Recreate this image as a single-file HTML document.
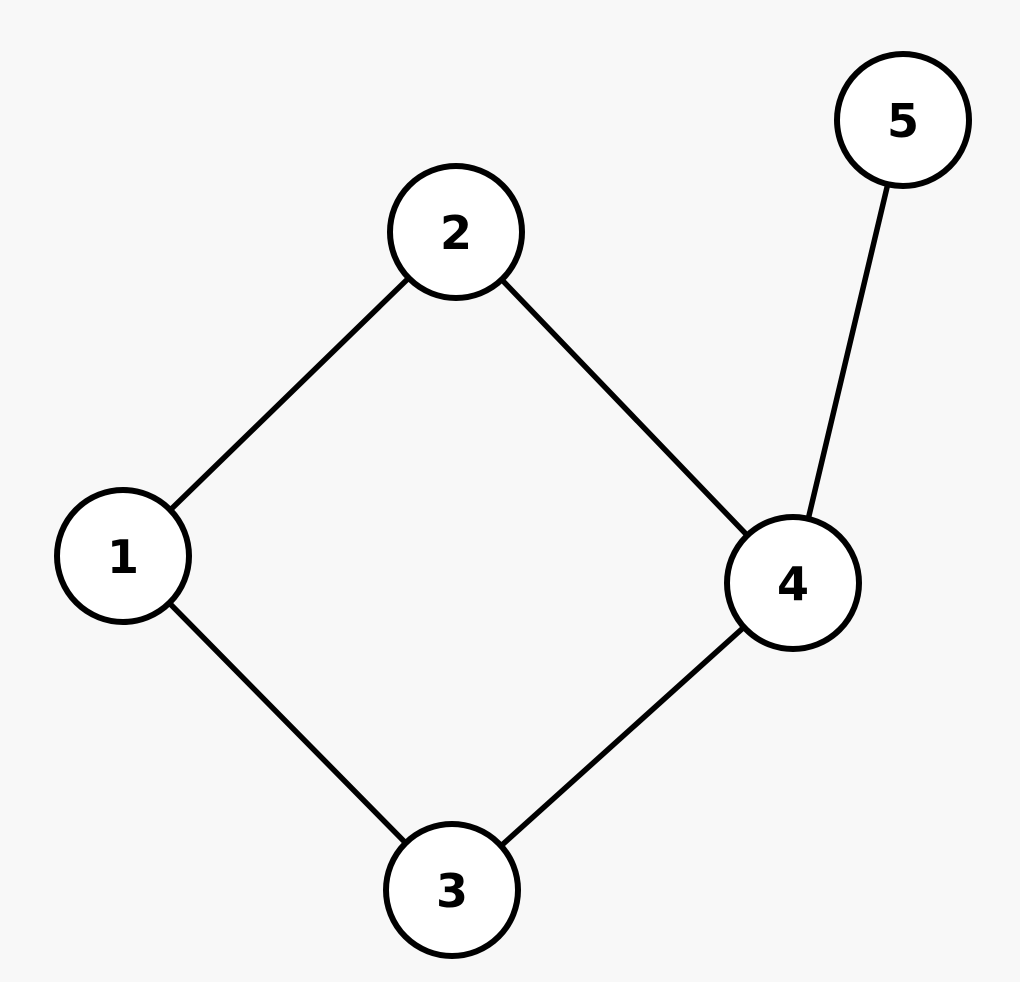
<!DOCTYPE html>
<html><head><meta charset="utf-8"><style>
html,body{margin:0;padding:0;background:#f8f8f8;}
svg{display:block;}
text{font-family:"DejaVu Sans","Liberation Sans",sans-serif;font-weight:bold;font-size:46px;fill:#000;}
</style></head><body>
<svg width="1020" height="982" viewBox="0 0 1020 982">
<rect width="1020" height="982" fill="#f8f8f8"/>
<g stroke="#000" stroke-width="5.5">
<line x1="123" y1="556" x2="456" y2="232"/>
<line x1="123" y1="556" x2="452" y2="890"/>
<line x1="456" y1="232" x2="793" y2="583"/>
<line x1="452" y1="890" x2="793" y2="583"/>
<line x1="793" y1="583" x2="903" y2="120"/>
</g>
<g fill="#fff" stroke="#000" stroke-width="6">
<circle cx="123" cy="556" r="66"/>
<circle cx="456" cy="232" r="66"/>
<circle cx="452" cy="890" r="66"/>
<circle cx="793" cy="583" r="66"/>
<circle cx="903" cy="120" r="66"/>
</g>
<g text-anchor="middle">
<text x="123" y="573">1</text>
<text x="456" y="249">2</text>
<text x="452" y="907">3</text>
<text x="793" y="600">4</text>
<text x="903" y="137">5</text>
</g>
</svg>
</body></html>
